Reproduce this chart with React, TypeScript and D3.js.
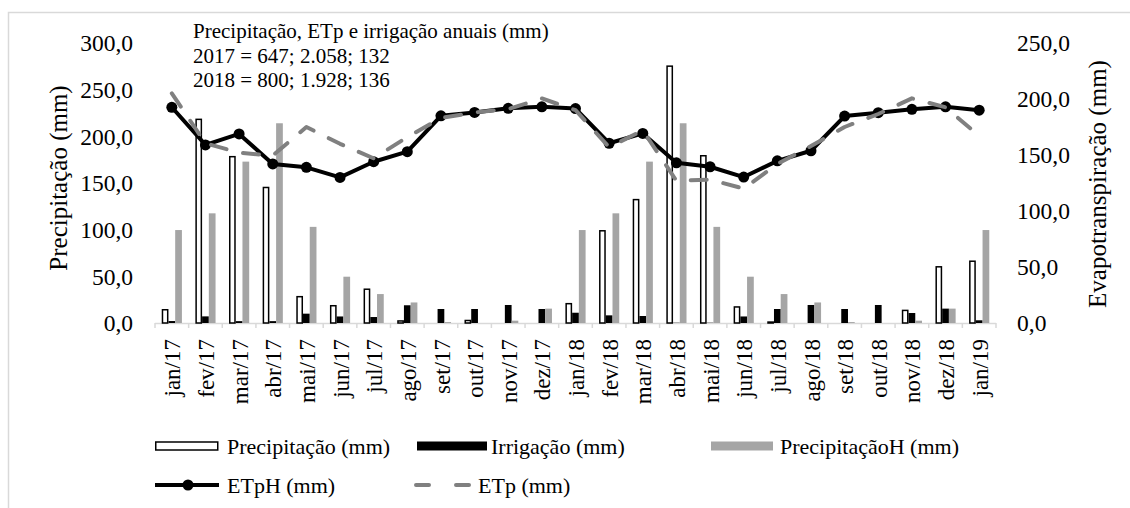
import React, { useEffect, useRef } from 'react';
import * as d3 from 'd3';

const months = [
  'jan/17', 'fev/17', 'mar/17', 'abr/17', 'mai/17', 'jun/17', 'jul/17', 'ago/17', 'set/17', 'out/17', 'nov/17', 'dez/17',
  'jan/18', 'fev/18', 'mar/18', 'abr/18', 'mai/18', 'jun/18', 'jul/18', 'ago/18', 'set/18', 'out/18', 'nov/18', 'dez/18',
  'jan/19',
];

// left axis (mm)
const precipitacao = [15, 219, 179, 146, 29, 19.3, 37, 3, 0, 3.5, 0.7, 0, 21.5, 99.6, 133, 276, 180, 18, 1.8, 0, 0, 0.7, 14.3, 61, 67];
const irrigacao = [2.1, 7.1, 2, 2, 10, 7, 6.4, 19, 15, 15, 19.3, 15, 11, 8.2, 7.5, 0.3, 0.3, 7, 15, 19.3, 15, 19.3, 10.7, 15.4, 2.9];
const precipitacaoH = [99.6, 117.5, 172.9, 214, 103, 49.6, 31, 22, 1, 0, 2.5, 15.4, 99.6, 117.5, 172.9, 214, 103, 49.6, 31, 22, 1, 0, 2.5, 15.4, 99.6];

// right axis (mm)
const etpH = [192.6, 159, 168.8, 142, 139, 130, 144, 153, 185, 188, 191.7, 193, 191.5, 160.5, 169.3, 143, 139.5, 130.3, 144.8, 153.8, 184.8, 187.8, 190.8, 193, 190];
const etp = [205, 160.5, 152, 149.5, 175, 160, 147, 166, 183, 188, 191, 200.5, 190, 157, 172, 127, 128, 120, 142, 158, 175, 186.6, 200.6, 192.6, 167];

const leftTicks = [0, 50, 100, 150, 200, 250, 300];
const rightTicks = [0, 50, 100, 150, 200, 250];

const annotation = [
  'Precipitação, ETp e irrigação anuais (mm)',
  '2017 = 647; 2.058; 132',
  '2018 = 800; 1.928; 136',
];

const FONT = '"Liberation Serif", "Times New Roman", serif';
const fmt = (v: number) => v.toFixed(1).replace('.', ',');

const App = () => {
  const svgRef = useRef<SVGSVGElement | null>(null);
  const width = 1130;
  const height = 508;

  useEffect(() => {
    const svg = d3.select(svgRef.current);
    svg.selectAll('*').remove();

    const left = 155, right = 996, top = 43, bottom = 323;

    // chart border
    svg.append('rect')
      .attr('x', 8.5).attr('y', 12.5).attr('width', 1300).attr('height', 700)
      .style('fill', '#fff').style('stroke', '#d9d9d9').style('stroke-width', 1.5);

    const x = d3.scaleBand<string>().domain(months).range([left, right]).padding(0);
    const bw = x.bandwidth();
    const xs = d3.scaleBand<string>().domain(['p', 'i', 'h']).range([bw * 0.2, bw * 0.8]).padding(0);
    const yL = d3.scaleLinear().domain([0, 300]).range([bottom, top]);
    const yR = d3.scaleLinear().domain([0, 250]).range([bottom, top]);

    // category axis
    svg.append('line')
      .attr('x1', left).attr('x2', right).attr('y1', bottom + 0.5).attr('y2', bottom + 0.5)
      .style('stroke', '#d9d9d9').style('stroke-width', 1.5);
    svg.selectAll('.tick-x')
      .data(d3.range(months.length + 1))
      .enter().append('line')
      .attr('x1', i => left + i * bw).attr('x2', i => left + i * bw)
      .attr('y1', bottom).attr('y2', bottom + 5)
      .style('stroke', '#d9d9d9').style('stroke-width', 1.5);

    svg.selectAll('.lbl-x')
      .data(months)
      .enter().append('text')
      .attr('transform', d => `translate(${x(d)! + bw / 2 + 1}, 339) rotate(-90)`)
      .attr('text-anchor', 'end')
      .attr('dy', '0.33em')
      .style('font-family', FONT).style('font-size', '23px').style('fill', '#000')
      .text(d => d);

    // y axis labels
    svg.selectAll('.lbl-yl')
      .data(leftTicks)
      .enter().append('text')
      .attr('x', 133).attr('y', d => yL(d)).attr('dy', '0.35em')
      .attr('text-anchor', 'end')
      .style('font-family', FONT).style('font-size', '23.5px')
      .text(d => fmt(d));
    svg.selectAll('.lbl-yr')
      .data(rightTicks)
      .enter().append('text')
      .attr('x', 1017).attr('y', d => yR(d)).attr('dy', '0.35em')
      .attr('text-anchor', 'start')
      .style('font-family', FONT).style('font-size', '23.5px')
      .text(d => fmt(d));

    svg.append('text')
      .attr('transform', 'translate(58, 178) rotate(-90)')
      .attr('text-anchor', 'middle').attr('dy', '0.35em')
      .style('font-family', FONT).style('font-size', '25px')
      .text('Precipitação (mm)');
    svg.append('text')
      .attr('transform', 'translate(1097, 184) rotate(-90)')
      .attr('text-anchor', 'middle').attr('dy', '0.35em')
      .style('font-family', FONT).style('font-size', '25px')
      .text('Evapotranspiração (mm)');

    // bars
    const barSeries = [
      { key: 'p', values: precipitacao, fill: '#fff', stroke: '#000' },
      { key: 'i', values: irrigacao, fill: '#000', stroke: 'none' },
      { key: 'h', values: precipitacaoH, fill: '#a5a5a5', stroke: 'none' },
    ];
    barSeries.forEach(s => {
      const inset = s.stroke === 'none' ? 0 : 0.75;
      svg.selectAll(`.bar-${s.key}`)
        .data(s.values)
        .enter().append('rect')
        .attr('x', (d, i) => x(months[i])! + xs(s.key)! + inset)
        .attr('y', d => yL(d) + inset)
        .attr('width', xs.bandwidth() - 2 * inset)
        .attr('height', d => Math.max(0, bottom - yL(d) - inset))
        .style('fill', s.fill)
        .style('stroke', s.stroke)
        .style('stroke-width', 1.5);
    });

    // lines
    const cx = (i: number) => x(months[i])! + bw / 2;
    const line = d3.line<number>().x((d, i) => cx(i)).y(d => yR(d));

    svg.append('path')
      .attr('d', line(etpH)!)
      .style('fill', 'none').style('stroke', '#000').style('stroke-width', 4)
      .style('stroke-linejoin', 'round');
    svg.selectAll('.mk')
      .data(etpH)
      .enter().append('circle')
      .attr('cx', (d, i) => cx(i)).attr('cy', d => yR(d)).attr('r', 5.5)
      .style('fill', '#000');

    svg.append('path')
      .attr('d', line(etp)!)
      .style('fill', 'none').style('stroke', '#808080').style('stroke-width', 4)
      .style('stroke-dasharray', '16 17').style('stroke-linecap', 'round')
      .style('stroke-linejoin', 'round');

    // annotation
    annotation.forEach((t, i) => {
      svg.append('text')
        .attr('x', 193).attr('y', 38 + i * 24.5)
        .style('font-family', FONT).style('font-size', '21px')
        .text(t);
    });

    // legend
    const lg = svg.append('g').style('font-family', FONT).style('font-size', '22px');
    const r1 = 446, r2 = 485;
    lg.append('rect').attr('x', 155.75).attr('y', r1 - 4).attr('width', 62).attr('height', 8)
      .style('fill', '#fff').style('stroke', '#000').style('stroke-width', 1.5);
    lg.append('text').attr('x', 227).attr('y', r1).attr('dy', '0.35em').text('Precipitação (mm)');
    lg.append('rect').attr('x', 417).attr('y', r1 - 4.5).attr('width', 70).attr('height', 9).style('fill', '#000');
    lg.append('text').attr('x', 491).attr('y', r1).attr('dy', '0.35em').text('Irrigação (mm)');
    lg.append('rect').attr('x', 711).attr('y', r1 - 4.5).attr('width', 62).attr('height', 9).style('fill', '#a5a5a5');
    lg.append('text').attr('x', 780).attr('y', r1).attr('dy', '0.35em').text('PrecipitaçãoH (mm)');

    lg.append('line').attr('x1', 155).attr('x2', 219).attr('y1', r2).attr('y2', r2)
      .style('stroke', '#000').style('stroke-width', 4);
    lg.append('circle').attr('cx', 188).attr('cy', r2).attr('r', 5.5).style('fill', '#000');
    lg.append('text').attr('x', 227).attr('y', r2).attr('dy', '0.35em').text('ETpH (mm)');
    lg.append('line').attr('x1', 416).attr('x2', 470).attr('y1', r2).attr('y2', r2)
      .style('stroke', '#808080').style('stroke-width', 4)
      .style('stroke-dasharray', '13 27').style('stroke-linecap', 'round');
    lg.append('text').attr('x', 478).attr('y', r2).attr('dy', '0.35em').text('ETp (mm)');
  }, []);

  return (
    <div style={{ position: 'absolute', left: 0, top: 0, width, height, overflow: 'hidden', background: '#fff' }}>
      <svg ref={svgRef} width={width} height={height} style={{ display: 'block' }} />
    </div>
  );
};

export default App;
